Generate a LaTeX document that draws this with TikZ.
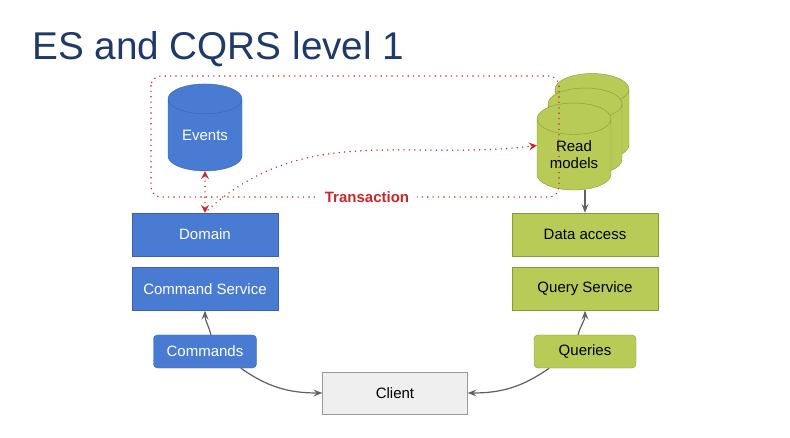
\documentclass[tikz,border=0pt]{standalone}
\usepackage{fontspec}
\setmainfont{Liberation Sans}
\usetikzlibrary{shapes.geometric,arrows.meta}

\definecolor{titleblue}{HTML}{1F3A68}
\definecolor{bluefill}{HTML}{4A7BD3}
\definecolor{blueline}{HTML}{3A62AE}
\definecolor{greenfill}{HTML}{B8CB56}
\definecolor{greenline}{HTML}{8A9A3A}
\definecolor{clientfill}{HTML}{EFEFEF}
\definecolor{clientline}{HTML}{9A9A9A}
\definecolor{txred}{HTML}{C8282A}
\definecolor{arrowgray}{HTML}{606060}

\begin{document}
\begin{tikzpicture}[x=1pt,y=-1pt,
every node/.style={font=\fontsize{15}{17}\selectfont, align=center},
bluebox/.style={draw=blueline, fill=bluefill, text=white, minimum width=146pt, minimum height=43pt},
greenbox/.style={draw=greenline, fill=greenfill, text=black, minimum width=146pt, minimum height=43pt},
bluetag/.style={bluebox, rounded corners=4pt, minimum width=103pt, minimum height=33pt},
greentag/.style={greenbox, rounded corners=4pt, minimum width=102pt, minimum height=33pt},
clientbox/.style={draw=clientline, fill=clientfill, minimum width=145pt, minimum height=42pt},
store/.style={cylinder, shape border rotate=90, aspect=0.65, inner sep=0pt,
  minimum width=74pt, minimum height=87pt},
bluestore/.style={store, draw=blueline, fill=bluefill, text=white},
greenstore/.style={store, draw=greenline, fill=greenfill, text=black},
tx/.style={txred, line width=1.6pt, line cap=round, dash pattern=on 0pt off 5.4pt},
txtip/.tip={Stealth[length=8pt,width=8pt,inset=3pt]},
flow/.style={arrowgray, line width=1.2pt, -{Stealth[length=9pt,width=7pt,inset=3.5pt]}}]

\useasboundingbox (0,0) rectangle (790,438);

% title
\node[anchor=base west, text=titleblue, font=\fontsize{38.7}{46}\selectfont, inner sep=0pt]
  (title) at (32,60) {ES and CQRS level 1};

% write side
\node[bluestore] (events) at (205,135) {Events};
\node[bluebox] (domain) at (205,234.5) {Domain};
\node[bluebox] (cmdsvc) at (205,289) {Command Service};
\node[bluetag] (commands) at (205,351.5) {Commands};

% read side
\node[greenstore] (back) at (592,125) {\phantom{Read}\\\phantom{models}};
\node[greenstore] (middle) at (585,139.5) {\phantom{Read}\\\phantom{models}};
\node[greenstore] (front) at (574,154.5) {Read\\models};
\node[greenbox] (data) at (585,234.5) {Data access};
\node[greenbox] (qrysvc) at (585,289) {Query Service};
\node[greentag] (queries) at (585,351.5) {Queries};

\node[clientbox] (client) at (395,393) {Client};

% transaction
\draw[tx, rounded corners=10pt] (151,76) rectangle (559,197);
\node[fill=white, text=txred, font=\bfseries\fontsize{15}{17}\selectfont, inner xsep=8pt]
  (trans) at (367,197) {Transaction};
\draw[tx, txtip-txtip] (events.south) -- (domain.north);
\draw[tx, -txtip] ([xshift=3pt,yshift=3pt]domain.north) to[out=42,in=187] ([yshift=9pt]front.west);

% connectors
\draw[flow] (front.south -| data.north) -- (data.north);
\draw[flow] ([xshift=6pt]commands.north) to[out=105,in=-90] (cmdsvc.south);
\draw[flow] (commands.-25) to[out=-35,in=180] (client.west);
\draw[flow] ([xshift=-7pt]queries.north) to[out=75,in=-90] (qrysvc.south);
\draw[flow] (queries.-155) to[out=-145,in=0] (client.east);

\end{tikzpicture}
\end{document}
